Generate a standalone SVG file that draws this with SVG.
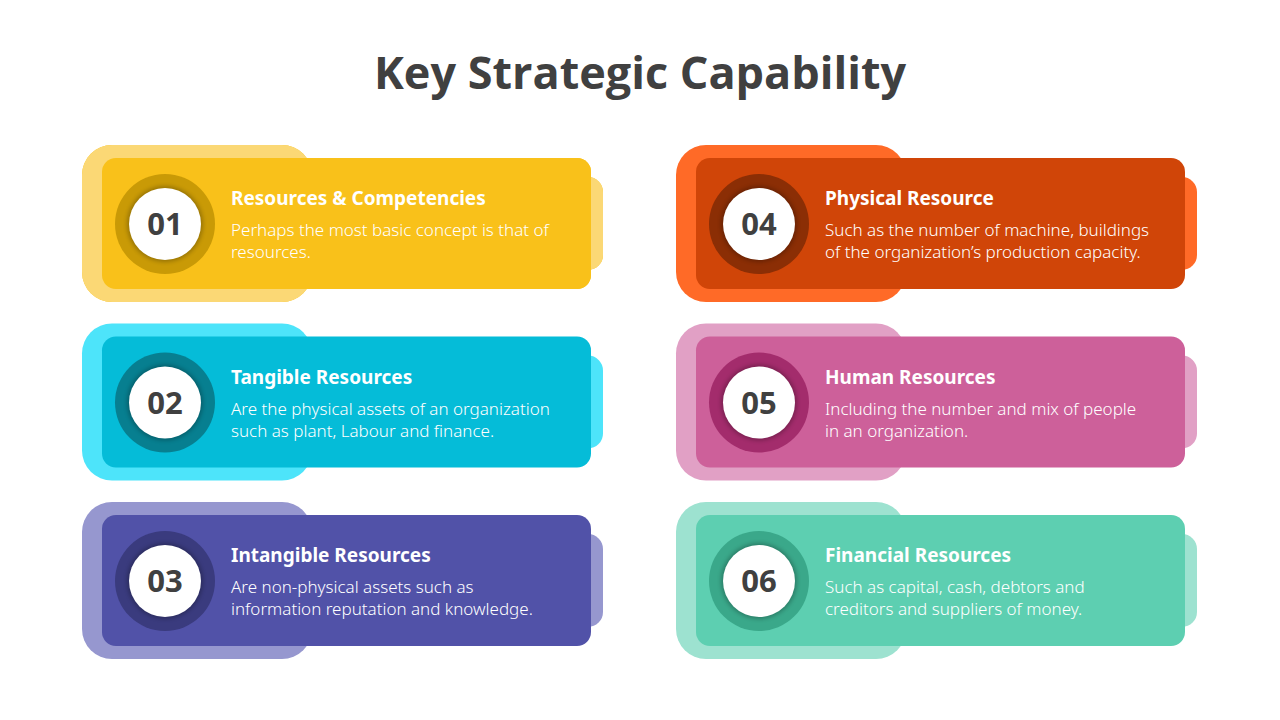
<svg xmlns="http://www.w3.org/2000/svg" width="1280" height="720" viewBox="0 0 1280 720">
<style>
.t{font-family:"Open Sans","Noto Sans",sans-serif;font-weight:700;font-size:45px;fill:#404040}
.h{font-family:"Noto Sans","Open Sans",sans-serif;font-weight:700;font-size:19px;fill:#fff}
.b{font-family:"Noto Sans","Open Sans",sans-serif;font-weight:300;font-size:17px;fill:#fff}
.n{font-family:"Open Sans","Noto Sans",sans-serif;font-weight:700;font-size:31px;fill:#404040;text-anchor:middle}
</style>
<defs>
<filter id="sh" x="-30%" y="-30%" width="160%" height="160%"><feGaussianBlur stdDeviation="2"/></filter>
<g id="card">
<rect x="82" y="145" width="230" height="157" rx="30" class="l"/>
<rect x="560" y="177" width="43" height="93" rx="15" class="l"/>
<rect x="102" y="158" width="489" height="131" rx="14" class="m"/>
<circle cx="165" cy="224" r="50" class="r"/>
<circle cx="165" cy="224" r="38" fill="#000" opacity="0.25" filter="url(#sh)"/>
<circle cx="165" cy="224" r="36" fill="#fff"/>
</g>
</defs>
<text x="640" y="89" text-anchor="middle" class="t">Key Strategic Capability</text>
<g id="n1" style="--x:0">
<use href="#card" fill="#F9C11A"/>
</g>
<g id="nodes">
<g id="node1"><g fill="#FBD875"><rect x="82" y="145" width="230" height="157" rx="30"/><rect x="560" y="177" width="43" height="93" rx="15"/></g><rect x="102" y="158" width="489" height="131" rx="14" fill="#F9C11A"/><circle cx="165" cy="224" r="50" fill="#C99A06"/><circle cx="165" cy="224" r="38" fill="#000" opacity="0.25" filter="url(#sh)"/><circle cx="165" cy="224" r="36" fill="#fff"/><text x="165" y="235" class="n">01</text><text x="231" y="205" class="h">Resources &amp; Competencies</text><text x="231" y="236" class="b">Perhaps the most basic concept is that of</text><text x="231" y="258" class="b">resources.</text></g>
<g id="node2" transform="translate(0,178.5)"><g fill="#4DE4FA"><rect x="82" y="145" width="230" height="157" rx="30"/><rect x="560" y="177" width="43" height="93" rx="15"/></g><rect x="102" y="158" width="489" height="131" rx="14" fill="#05BCD8"/><circle cx="165" cy="224" r="50" fill="#077F90"/><circle cx="165" cy="224" r="38" fill="#000" opacity="0.25" filter="url(#sh)"/><circle cx="165" cy="224" r="36" fill="#fff"/><text x="165" y="235" class="n">02</text><text x="231" y="205" class="h">Tangible  Resources</text><text x="231" y="236" class="b">Are the physical assets of an organization</text><text x="231" y="258" class="b">such as plant, Labour and finance.</text></g>
<g id="node3" transform="translate(0,357)"><g fill="#9697CF"><rect x="82" y="145" width="230" height="157" rx="30"/><rect x="560" y="177" width="43" height="93" rx="15"/></g><rect x="102" y="158" width="489" height="131" rx="14" fill="#5152A8"/><circle cx="165" cy="224" r="50" fill="#3A3B7E"/><circle cx="165" cy="224" r="38" fill="#000" opacity="0.25" filter="url(#sh)"/><circle cx="165" cy="224" r="36" fill="#fff"/><text x="165" y="235" class="n">03</text><text x="231" y="205" class="h">Intangible Resources</text><text x="231" y="236" class="b">Are non-physical assets such as</text><text x="231" y="258" class="b">information reputation and knowledge.</text></g>
<g id="node4" transform="translate(594,0)"><g fill="#FF6A27"><rect x="82" y="145" width="230" height="157" rx="30"/><rect x="560" y="177" width="43" height="93" rx="15"/></g><rect x="102" y="158" width="489" height="131" rx="14" fill="#D04508"/><circle cx="165" cy="224" r="50" fill="#8B2E05"/><circle cx="165" cy="224" r="38" fill="#000" opacity="0.25" filter="url(#sh)"/><circle cx="165" cy="224" r="36" fill="#fff"/><text x="165" y="235" class="n">04</text><text x="231" y="205" class="h">Physical Resource</text><text x="231" y="236" class="b">Such as the number of machine, buildings</text><text x="231" y="258" class="b">of the organization’s production capacity.</text></g>
<g id="node5" transform="translate(594,178.5)"><g fill="#E1A0C5"><rect x="82" y="145" width="230" height="157" rx="30"/><rect x="560" y="177" width="43" height="93" rx="15"/></g><rect x="102" y="158" width="489" height="131" rx="14" fill="#CD609A"/><circle cx="165" cy="224" r="50" fill="#A32C6C"/><circle cx="165" cy="224" r="38" fill="#000" opacity="0.25" filter="url(#sh)"/><circle cx="165" cy="224" r="36" fill="#fff"/><text x="165" y="235" class="n">05</text><text x="231" y="205" class="h">Human  Resources</text><text x="231" y="236" class="b">Including the number and mix of people</text><text x="231" y="258" class="b">in an organization.</text></g>
<g id="node6" transform="translate(594,357)"><g fill="#9DE2D0"><rect x="82" y="145" width="230" height="157" rx="30"/><rect x="560" y="177" width="43" height="93" rx="15"/></g><rect x="102" y="158" width="489" height="131" rx="14" fill="#5DCFB1"/><circle cx="165" cy="224" r="50" fill="#3AA88A"/><circle cx="165" cy="224" r="38" fill="#000" opacity="0.25" filter="url(#sh)"/><circle cx="165" cy="224" r="36" fill="#fff"/><text x="165" y="235" class="n">06</text><text x="231" y="205" class="h">Financial  Resources</text><text x="231" y="236" class="b">Such as capital, cash, debtors and</text><text x="231" y="258" class="b">creditors and suppliers of money.</text></g>
</g>
<g id="connectors"/>
</svg>
